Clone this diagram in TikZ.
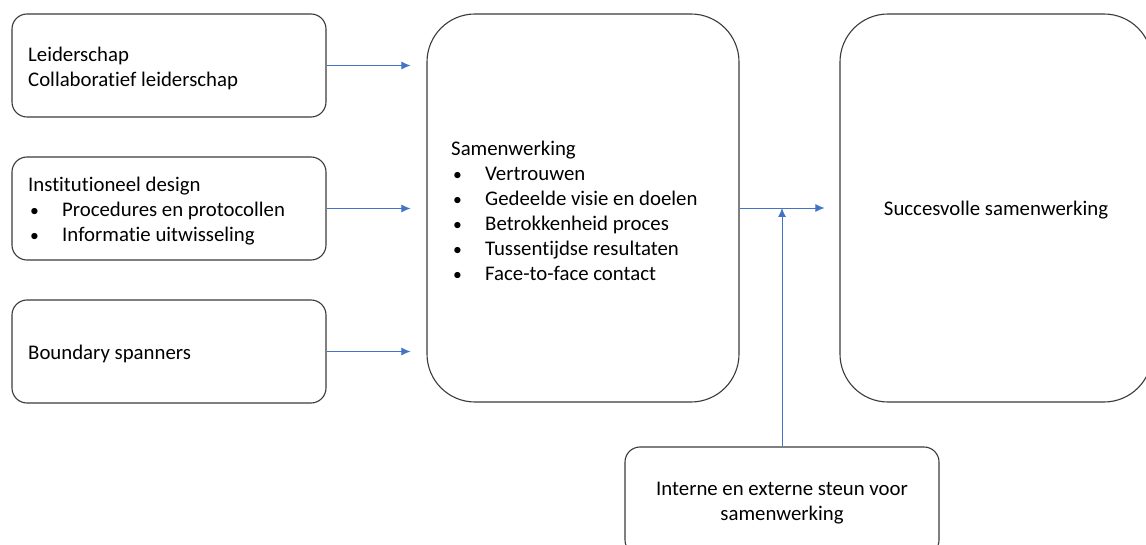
\documentclass[tikz,border=0pt]{standalone}
\usepackage{fontspec}
\setmainfont{Carlito}[Ligatures=NoCommon]
\usetikzlibrary{arrows.meta}
\definecolor{arrblue}{HTML}{4472C4}
\definecolor{edge}{HTML}{3A3A3A}
\begin{document}
\begin{tikzpicture}[x=1pt,y=-1pt,
  every node/.style={font=\fontsize{20.8}{25}\selectfont},
  smallbox/.style={draw=edge,line width=1.1pt,rounded corners=15pt,minimum width=314pt,minimum height=103pt,inner sep=0pt},
  bigbox/.style={draw=edge,line width=1.1pt,rounded corners=48pt,minimum width=312pt,minimum height=388pt,inner sep=0pt},
  txt/.style={align=left,anchor=west,inner sep=0pt,yshift=-2.5pt},
  ctxt/.style={align=center,inner sep=0pt,yshift=-2.5pt},
  arr/.style={draw=arrblue,line width=0.9pt,-{Latex[length=9pt,width=8pt]}}]
\useasboundingbox (0,0) rectangle (1146,545);
\clip (0,0) rectangle (1146,545);
\newcommand{\bul}{\makebox[34pt][l]{\hspace{2pt}\scalebox{0.85}{•}}}
% left boxes
\node[smallbox] (b1) at (169,65.5) {};
\node[txt] (t1) at (28,65.5) {Leiderschap\\Collaboratief leiderschap};
\node[smallbox] (b2) at (169,208.5) {};
\node[txt] (t2) at (28,208.5) {Institutioneel design\\\bul Procedures en protocollen\\\bul Informatie uitwisseling};
\node[smallbox] (b3) at (169,351.5) {};
\node[txt] (t3) at (28,351.5) {Boundary spanners};
% middle box
\node[bigbox] (mid) at (583,208) {};
\node[txt] (tm) at (451,208) {Samenwerking\\\bul Vertrouwen\\\bul Gedeelde visie en doelen\\\bul Betrokkenheid proces\\\bul Tussentijdse resultaten\\\bul Face-to-face contact};
% right box
\node[bigbox] (res) at (996,208) {};
\node[ctxt] (tr) at (996,208) {Succesvolle samenwerking};
% bottom box
\node[smallbox,minimum height=108pt] (bot) at (782,501) {};
\node[ctxt] (tb) at (782,501) {Interne en externe steun voor\\samenwerking};
% arrows
\draw[arr,shorten >=16pt] (b1.east) -- (mid.west |- b1.east);
\draw[arr,shorten >=16pt] (b2.east) -- (mid.west |- b2.east);
\draw[arr,shorten >=16pt] (b3.east) -- (mid.west |- b3.east);
\draw[arr,shorten >=15pt] (mid.east) -- (res.west);
\coordinate (j) at (bot.north |- mid.east);
\draw[arr] (bot.north) -- (j);
\end{tikzpicture}
\end{document}
